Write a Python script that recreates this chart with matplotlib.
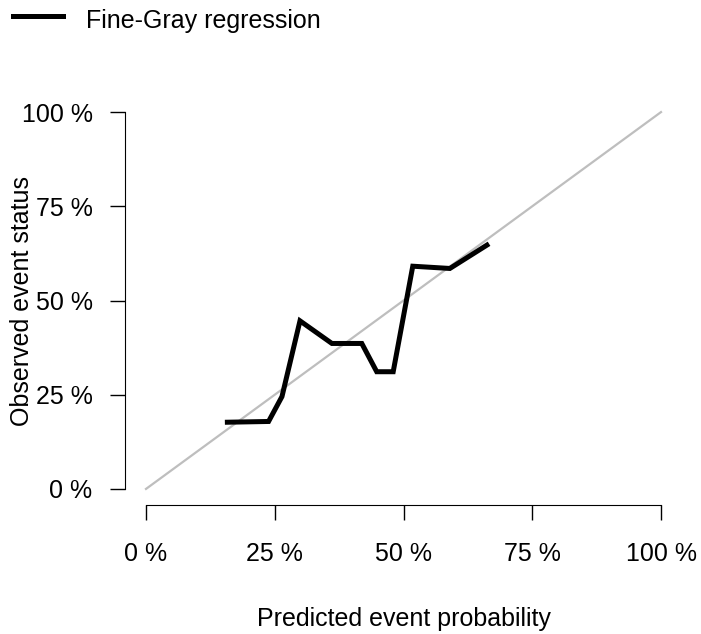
import matplotlib.pyplot as plt
from matplotlib.ticker import FuncFormatter

plt.rcParams["font.family"] = ["Liberation Sans", "DejaVu Sans"]

# calibration curve
pred = [0.158, 0.238, 0.264, 0.299, 0.361, 0.419, 0.448, 0.480, 0.518, 0.590, 0.662]
obs = [0.177, 0.179, 0.245, 0.446, 0.386, 0.386, 0.311, 0.311, 0.591, 0.585, 0.647]
ticks = [0, 0.25, 0.5, 0.75, 1.0]

fig = plt.figure(figsize=(7.01, 6.34), dpi=100)
W, H = 701, 634
# axes box in pixels (R style 4% padding around 0..1)
left, right, top, bottom = 125.4, 681.6, 97.0, 504.0
ax = fig.add_axes([left / W, 1 - bottom / H, (right - left) / W, (bottom - top) / H])

ax.plot([0, 1], [0, 1], color="#bebebe", lw=1.6)
ax.plot(pred, obs, color="black", lw=3.6, solid_joinstyle="miter",
        label="Fine-Gray regression")

ax.set_xlim(-0.04, 1.04)
ax.set_ylim(-0.04, 1.04)
ax.set_xticks(ticks)
ax.set_yticks(ticks)
pct = FuncFormatter(lambda v, p: "%d %%" % round(v * 100))
ax.xaxis.set_major_formatter(pct)
ax.yaxis.set_major_formatter(pct)

for s in ["top", "right"]:
    ax.spines[s].set_visible(False)
ax.spines["left"].set_bounds(0, 1)
ax.spines["bottom"].set_bounds(0, 1)
ax.spines["bottom"].set_position(("outward", 1))
ax.tick_params(direction="out", length=10.6, width=1, labelsize=18)
ax.tick_params(axis="y", pad=13)
ax.tick_params(axis="x", pad=16)

ax.set_xlabel("Predicted event probability", fontsize=18)
ax.set_ylabel("Observed event status", fontsize=18)
ax.xaxis.set_label_coords(0.5, -0.253)
ax.yaxis.set_label_coords(-0.165, 0.5)

# R draws the legend line a bit above the middle of the text
fig.legend(loc="upper left", bbox_to_anchor=(0.019, 0.994), frameon=False,
           fontsize=18, handlelength=2.0, handletextpad=0.9, handleheight=1.63,
           borderpad=0, borderaxespad=0)

fig.savefig("out.png", dpi=100)
